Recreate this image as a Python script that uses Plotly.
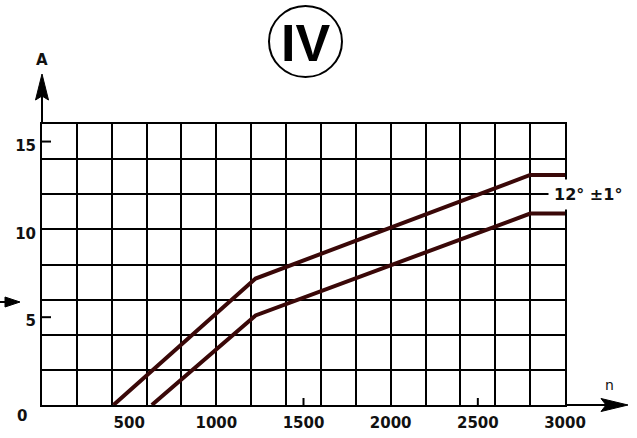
import plotly.graph_objects as go

# Speed n (rpm) versus current A for the two limit curves
n_upper = [410, 1225, 2800, 3000]
a_upper = [0, 7.2, 13.1, 13.1]
n_lower = [630, 1225, 2800, 3000]
a_lower = [0, 5.1, 10.9, 10.9]

x_ticks = [500, 1000, 1500, 2000, 2500, 3000]
y_ticks = [5, 10, 15]
x_marks = [1500, 2500]   # short inside ticks between grid lines
y_marks = [5, 15]
X_MAX, Y_MAX = 3000, 16
GRID_X, GRID_Y = 200, 2

W, H = 637, 438
M = dict(l=42, r=72, t=124, b=33)
PW = W - M["l"] - M["r"]
PH = H - M["t"] - M["b"]


def px(x):
    """Horizontal page pixel -> paper fraction."""
    return (x - M["l"]) / PW


def py(y):
    """Vertical page pixel -> paper fraction."""
    return (H - M["b"] - y) / PH


CURVE = "#3a0808"
TICK_FONT = dict(family="DejaVu Sans", size=15, color="#111", weight="bold")

fig = go.Figure()
for xs, ys in ((n_upper, a_upper), (n_lower, a_lower)):
    fig.add_trace(go.Scatter(x=xs, y=ys, mode="lines",
                             line=dict(color=CURVE, width=4),
                             hoverinfo="skip", showlegend=False))

axis_common = dict(showline=True, mirror=True, linecolor="black", linewidth=2,
                   showgrid=False, zeroline=False, ticks="", fixedrange=True,
                   automargin=False, tickfont=TICK_FONT)
fig.update_xaxes(range=[0, X_MAX], tickvals=x_ticks, ticklabelstandoff=3,
                 minor=dict(dtick=GRID_X, tick0=0, showgrid=True,
                            gridcolor="black", gridwidth=2),
                 **axis_common)
fig.update_yaxes(range=[0, Y_MAX], tickvals=y_ticks, ticklabelshift=4,
                 ticklabelstandoff=1,
                 minor=dict(dtick=GRID_Y, tick0=0, showgrid=True,
                            gridcolor="black", gridwidth=2),
                 **axis_common)

shapes = []
# short tick marks pointing into the grid
for v in x_marks:
    shapes.append(dict(type="line", xref="x", yref="paper", x0=v, x1=v,
                       y0=0, y1=7 / PH, line=dict(color="black", width=2)))
for v in y_marks:
    shapes.append(dict(type="line", xref="paper", yref="y", x0=0, x1=9 / PW,
                       y0=v, y1=v, line=dict(color="black", width=2)))

# axis extensions with arrow heads
shapes.append(dict(type="line", xref="paper", yref="paper", x0=0, x1=0,
                   y0=1, y1=py(95), line=dict(color="black", width=2)))
shapes.append(dict(type="path", xref="paper", yref="paper",
                   path=f"M {px(42)},{py(74)} L {px(48.5)},{py(100)} "
                        f"L {px(42)},{py(96)} L {px(35.5)},{py(100)} Z",
                   fillcolor="black", line=dict(color="black", width=1)))
shapes.append(dict(type="line", xref="paper", yref="paper", x0=1, x1=px(606),
                   y0=0, y1=0, line=dict(color="black", width=2)))
shapes.append(dict(type="path", xref="paper", yref="paper",
                   path=f"M {px(628)},{py(405)} L {px(601)},{py(398.5)} "
                        f"L {px(606)},{py(405)} L {px(601)},{py(411.5)} Z",
                   fillcolor="black", line=dict(color="black", width=1)))

# small arrow at the left margin
shapes.append(dict(type="line", xref="paper", yref="paper", x0=px(0), x1=px(9),
                   y0=py(302), y1=py(302), line=dict(color="black", width=2)))
shapes.append(dict(type="path", xref="paper", yref="paper",
                   path=f"M {px(20)},{py(302)} L {px(5)},{py(297)} "
                        f"L {px(5)},{py(307)} Z",
                   fillcolor="black", line=dict(color="black", width=1)))

# ring around the roman numeral
shapes.append(dict(type="circle", xref="paper", yref="paper",
                   x0=px(269), x1=px(342), y0=py(77), y1=py(6),
                   line=dict(color="black", width=2)))

annotations = [
    dict(text="IV", xref="paper", yref="paper", x=px(305.5), y=py(43),
         showarrow=False, xanchor="center", yanchor="middle",
         font=dict(family="Liberation Sans", size=52, color="black", weight="bold")),
    dict(text="A", xref="paper", yref="paper", x=px(42), y=py(60),
         showarrow=False, xanchor="center", yanchor="middle",
         font=dict(family="DejaVu Sans", size=15, color="#111", weight="bold")),
    dict(text="n", xref="paper", yref="paper", x=px(609), y=py(385),
         showarrow=False, xanchor="center", yanchor="middle",
         font=dict(family="DejaVu Sans", size=14, color="#111")),
    dict(text="0", xref="paper", yref="paper", x=px(22), y=py(416),
         showarrow=False, xanchor="center", yanchor="middle", font=TICK_FONT),
    dict(text="12° ±1°", xref="paper", yref="y", x=px(548), y=12,
         showarrow=False, xanchor="left", yanchor="middle",
         bgcolor="white", borderpad=5,
         font=dict(family="DejaVu Sans", size=16, color="#111", weight="bold")),
]

fig.update_layout(width=W, height=H, margin=M, plot_bgcolor="white",
                  paper_bgcolor="white", shapes=shapes, annotations=annotations)

fig.write_html("out.html", include_plotlyjs=True, config={"displayModeBar": False})
